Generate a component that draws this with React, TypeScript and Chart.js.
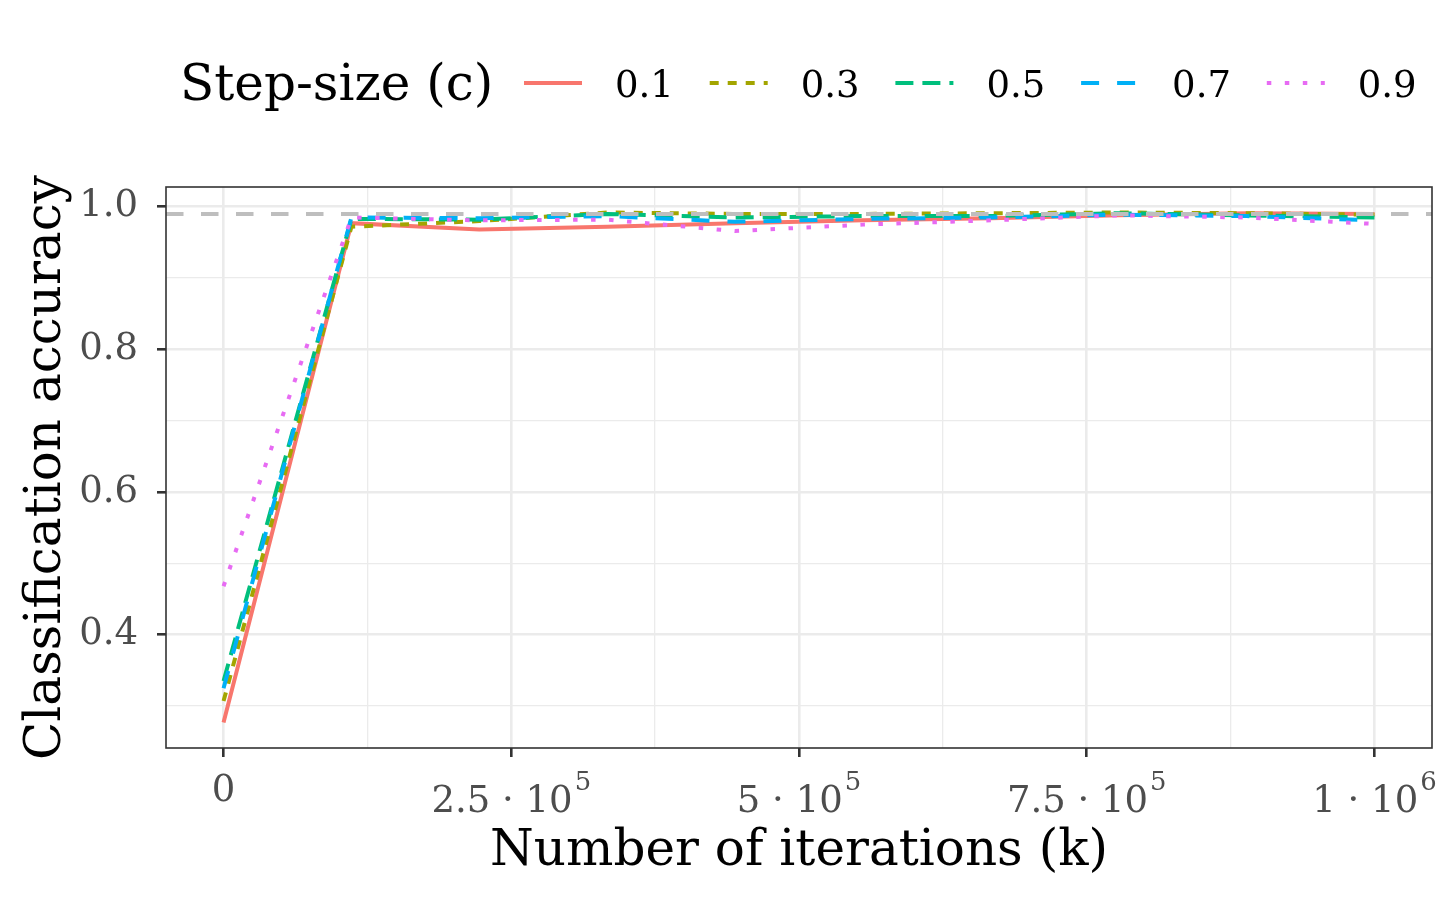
import React, { useEffect, useRef } from "react";
import { Chart, registerables } from "chart.js";

Chart.register(...registerables);

// iterations at which accuracy was evaluated
const iterations = [0, 111111, 222222, 333333, 444444, 555556, 666667, 777778, 888889, 1000000];

// classification accuracy per step-size c
const acc01 = [0.277, 0.977, 0.968, 0.972, 0.977, 0.981, 0.984, 0.988, 0.991, 0.990];
const acc03 = [0.307, 0.972, 0.980, 0.992, 0.990, 0.990, 0.991, 0.992, 0.991, 0.989];
const acc05 = [0.335, 0.983, 0.982, 0.990, 0.985, 0.987, 0.987, 0.991, 0.988, 0.985];
const acc07 = [0.325, 0.985, 0.984, 0.987, 0.979, 0.983, 0.985, 0.989, 0.987, 0.981];
const acc09 = [0.468, 0.985, 0.981, 0.982, 0.966, 0.975, 0.981, 0.988, 0.985, 0.976];

const stepLabels = ["0.1", "0.3", "0.5", "0.7", "0.9"];
const referenceAccuracy = 0.99;

const xTickValues = [0, 125000, 250000, 375000, 500000, 625000, 750000, 875000, 1000000];
const xTickMain = ["0", "2.5 \u00B7 10", "5 \u00B7 10", "7.5 \u00B7 10", "1 \u00B7 10"];
const xTickExp = ["", "5", "5", "5", "6"];
const yTickValues = [0.3, 0.4, 0.5, 0.6, 0.7, 0.8, 0.9, 1.0];

const colors = ["#F8766D", "#A3A500", "#00BF7D", "#00B0F6", "#E76BF3"];
const LW = 4;
const dashes = [[], [9, 9], [18, 9], [18, 18], [4.5, 13.5]];

const FONT = "'DejaVu Serif', serif";
const TITLE = 50;
const TICK = 37;

const isMajorY = (v: number) => Math.round(v * 10) % 2 === 0;
const isMajorX = (v: number) => Math.round(v / 125000) % 2 === 0;

const series = [acc01, acc03, acc05, acc07, acc09];
const allY = [...series.flat(), referenceAccuracy];
const yLo = Math.min(...allY);
const yHi = Math.max(...allY);
const yPad = (yHi - yLo) * 0.05;
const xPad = (iterations[iterations.length - 1] - iterations[0]) * 0.05;

const ggPlugin = {
  id: "ggDecor",
  afterDatasetsDraw(chart: any) {
    const { ctx, chartArea: a, scales } = chart;
    const y = scales.y.getPixelForValue(referenceAccuracy);
    ctx.save();
    ctx.beginPath();
    ctx.rect(a.left, a.top, a.right - a.left, a.bottom - a.top);
    ctx.clip();
    ctx.strokeStyle = "#BEBEBE";
    ctx.lineWidth = 4;
    ctx.setLineDash([17.5, 17.5]);
    ctx.beginPath();
    ctx.moveTo(a.left, y);
    ctx.lineTo(a.right, y);
    ctx.stroke();
    ctx.restore();

    ctx.save();
    ctx.strokeStyle = "#333333";
    ctx.lineWidth = 1.6;
    ctx.strokeRect(a.left, a.top, a.right - a.left, a.bottom - a.top);
    ctx.restore();
  },
  afterDraw(chart: any) {
    const { ctx, chartArea: a, scales } = chart;
    ctx.save();
    ctx.fillStyle = "#4D4D4D";
    ctx.textBaseline = "alphabetic";
    const majors = xTickValues.filter(isMajorX);
    majors.forEach((v, i) => {
      const px = scales.x.getPixelForValue(v);
      const main = xTickMain[i];
      const exp = xTickExp[i];
      ctx.font = `${TICK}px ${FONT}`;
      const wMain = ctx.measureText(main).width;
      ctx.font = `${TICK * 0.7}px ${FONT}`;
      const wExp = exp ? ctx.measureText(exp).width + 2 : 0;
      const x0 = px - (wMain + wExp) / 2;
      ctx.textAlign = "left";
      ctx.font = `${TICK}px ${FONT}`;
      if (!exp) {
        ctx.fillText(main, x0, a.bottom + 53);
      } else {
        ctx.fillText(main, x0, a.bottom + 64);
        ctx.font = `${TICK * 0.7}px ${FONT}`;
        ctx.fillText(exp, x0 + wMain + 2, a.bottom + 42);
      }
    });

    ctx.fillStyle = "#000000";
    ctx.font = `${TITLE}px ${FONT}`;
    ctx.textAlign = "center";
    ctx.fillText("Number of iterations (k)", (a.left + a.right) / 2, a.bottom + 117);

    ctx.save();
    ctx.translate(52, (a.top + a.bottom) / 2);
    ctx.rotate(-Math.PI / 2);
    ctx.fillText("Classification accuracy", 0, 0);
    ctx.restore();

    // legend
    const ly = 75;
    ctx.textAlign = "left";
    ctx.font = `${TITLE}px ${FONT}`;
    ctx.fillText("Step-size (c)", 172, ly + 17);
    stepLabels.forEach((lab, i) => {
      const x = 516 + i * 185.7;
      ctx.save();
      ctx.strokeStyle = colors[i];
      ctx.lineWidth = LW;
      ctx.lineCap = "butt";
      ctx.setLineDash(dashes[i]);
      ctx.beginPath();
      ctx.moveTo(x, ly);
      ctx.lineTo(x + 58, ly);
      ctx.stroke();
      ctx.restore();
      ctx.font = `${TICK}px ${FONT}`;
      ctx.fillStyle = "#000000";
      ctx.fillText(lab, x + 91, ly + 14);
    });
    ctx.restore();
  },
};

const App: React.FC = () => {
  const canvasRef = useRef<HTMLCanvasElement | null>(null);
  const chartRef = useRef<Chart | null>(null);

  useEffect(() => {
    const ctx = canvasRef.current?.getContext("2d");
    if (!ctx) return;
    if (chartRef.current) chartRef.current.destroy();

    chartRef.current = new Chart(ctx, {
      type: "line",
      data: {
        datasets: series.map((vals, i) => ({
          label: stepLabels[i],
          data: iterations.map((x, j) => ({ x, y: vals[j] })),
          borderColor: colors[i],
          backgroundColor: colors[i],
          borderWidth: LW,
          borderDash: dashes[i],
          borderCapStyle: "butt" as const,
          pointRadius: 0,
          tension: 0,
          fill: false,
          order: series.length - 1 - i,
        })),
      },
      options: {
        animation: false,
        responsive: true,
        maintainAspectRatio: false,
        devicePixelRatio: 1,
        layout: { padding: { top: 179, right: 16, left: 0, bottom: 0 } },
        plugins: { legend: { display: false }, tooltip: { enabled: false } },
        scales: {
          x: {
            type: "linear",
            min: iterations[0] - xPad,
            max: iterations[iterations.length - 1] + xPad,
            afterBuildTicks: (s: any) => {
              s.ticks = xTickValues.map((value) => ({ value }));
            },
            afterFit: (s: any) => {
              s.height = 144;
            },
            ticks: { callback: () => "", padding: 0 },
            border: { display: false },
            grid: {
              color: "#EBEBEB",
              lineWidth: (c: any) => (isMajorX(c.tick.value) ? 2.6 : 1.3),
              tickColor: (c: any) => (isMajorX(c.tick.value) ? "#333333" : "rgba(0,0,0,0)"),
              tickWidth: 2.6,
              tickLength: 9,
            },
          },
          y: {
            type: "linear",
            min: yLo - yPad,
            max: yHi + yPad,
            afterBuildTicks: (s: any) => {
              s.ticks = yTickValues.map((value) => ({ value }));
            },
            afterFit: (s: any) => {
              s.width = 158;
            },
            ticks: {
              callback: (v: any) => (isMajorY(Number(v)) ? Number(v).toFixed(1) : ""),
              color: "#4D4D4D",
              font: { family: "DejaVu Serif", size: TICK },
              padding: 19,
            },
            border: { display: false },
            grid: {
              color: "#EBEBEB",
              lineWidth: (c: any) => (isMajorY(c.tick.value) ? 2.6 : 1.3),
              tickColor: (c: any) => (isMajorY(c.tick.value) ? "#333333" : "rgba(0,0,0,0)"),
              tickWidth: 2.6,
              tickLength: 9,
            },
          },
        },
      },
      plugins: [ggPlugin],
    });

    return () => {
      if (chartRef.current) {
        chartRef.current.destroy();
        chartRef.current = null;
      }
    };
  }, []);

  return (
    <div style={{ width: 1440, height: 884, position: "relative" }}>
      <canvas ref={canvasRef}></canvas>
    </div>
  );
};

export default App;
